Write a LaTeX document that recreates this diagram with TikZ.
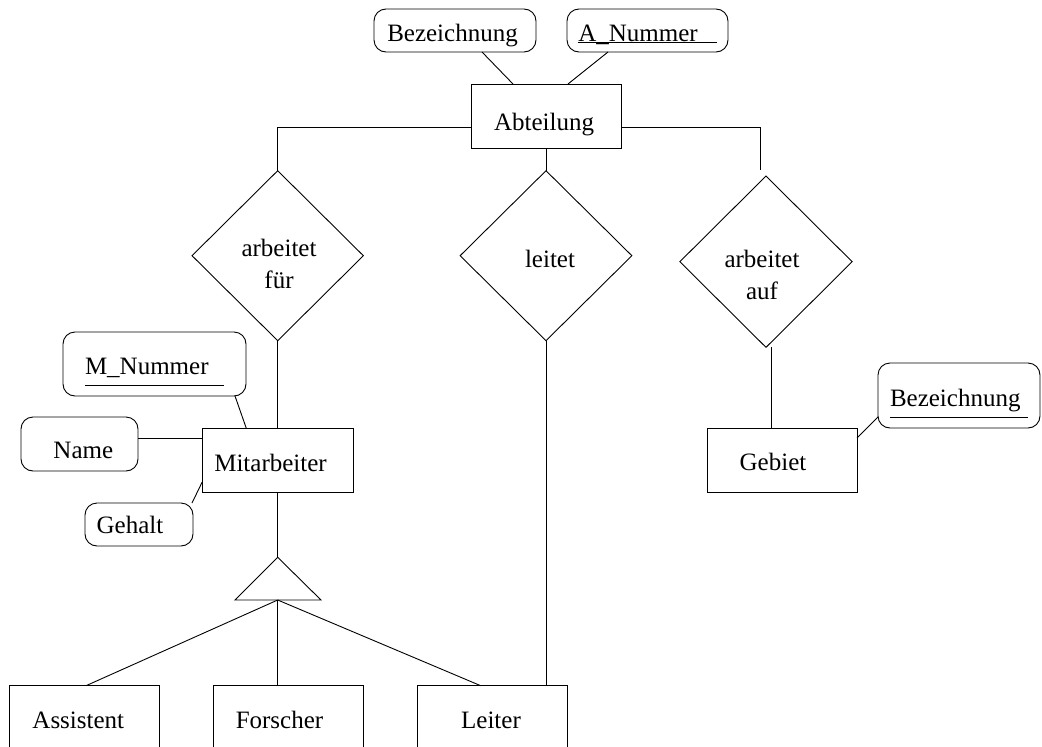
\documentclass[tikz,border=0pt]{standalone}
\usepackage{fontspec}
\setmainfont{Liberation Serif}
\usetikzlibrary{shapes.geometric,calc}
\newcommand{\ulx}[3]{\leavevmode\rlap{\rule[-#2]{#3}{0.9pt}}#1}
\tikzset{
  every picture/.style={line width=0.9pt},
  ent/.style={draw, rectangle, inner sep=0pt, outer sep=0pt},
  att/.style={draw, rectangle, rounded corners=12pt, inner sep=0pt, outer sep=0pt},
  rel/.style={draw, diamond, inner sep=0pt, outer sep=0pt},
  lbl/.style={inner sep=0pt, outer sep=0pt, font=\fontsize{25}{32}\selectfont},
  con/.style={draw, line width=0.9pt}
}
\begin{document}
\begin{tikzpicture}[x=1pt,y=-1pt]
\useasboundingbox (0,0) rectangle (1042,747);
\clip (0,0) rectangle (1042,747);
% entities
\node[ent, minimum width=150pt, minimum height=64pt] (abt) at (546,116) {};
\node[ent, minimum width=151pt, minimum height=64pt] (mit) at (277.7,460) {};
\node[ent, minimum width=150pt, minimum height=64pt] (geb) at (782,460) {};
\node[ent, minimum width=150pt, minimum height=64pt] (assi) at (84.3,717.7) {};
\node[ent, minimum width=150pt, minimum height=64pt] (forsch) at (288.3,717.7) {};
\node[ent, minimum width=150.4pt, minimum height=64pt] (leiter) at (492.5,717.7) {};
% attributes
\node[att, minimum width=162pt, minimum height=43pt] (bez1) at (455,30.5) {};
\node[att, minimum width=161pt, minimum height=43pt] (anum) at (647.5,30.5) {};
\node[att, minimum width=183pt, minimum height=64pt] (mnum) at (154.5,364) {};
\node[att, minimum width=117pt, minimum height=54pt] (name) at (79.5,444) {};
\node[att, minimum width=108pt, minimum height=43pt] (gehalt) at (139,524.5) {};
\node[att, minimum width=162pt, minimum height=65pt] (bez2) at (959,395.5) {};
% relationships
\node[rel, minimum width=171.3pt, minimum height=170pt] (arb1) at (277.7,255.7) {};
\node[rel, minimum width=171.7pt, minimum height=170pt] (leitet) at (546,255.7) {};
\node[rel, minimum width=172.3pt, minimum height=171.3pt] (arb2) at (766,261.7) {};
% texts
\node[lbl, anchor=base] (abtT) at (544,130) {Abteilung};
\node[lbl, anchor=base] (mitT) at (270.5,471.7) {Mitarbeiter};
\node[lbl, anchor=base] (gebT) at (773,470) {Gebiet};
\node[lbl, anchor=base] (assiT) at (78.3,728.3) {Assistent};
\node[lbl, anchor=base] (forschT) at (279.5,728.3) {Forscher};
\node[lbl, anchor=base] (leiterT) at (491,728.3) {Leiter};
\node[lbl, anchor=base] (bez1T) at (452.5,41) {Bezeichnung};
\node[lbl, anchor=base west] (anumT) at (578.3,41) {\ulx{A\_Nummer}{2pt}{138.4pt}};
\node[lbl, anchor=base west] (mnumT) at (85,374) {\ulx{M\_Nummer}{11.4pt}{139pt}};
\node[lbl, anchor=base] (nameT) at (83.3,458.3) {Name};
\node[lbl, anchor=base] (gehT) at (130,533.3) {Gehalt};
\node[lbl, anchor=base west] (bez2T) at (890,406.7) {\ulx{Bezeichnung}{11pt}{138pt}};
\node[lbl, align=center] (arb1T) at (279,264) {arbeitet\\für};
\node[lbl, anchor=base] (leitetT) at (550,267) {leitet};
\node[lbl, align=center] (arb2T) at (762,275) {arbeitet\\auf};
% ISA triangle
\coordinate (triTop) at (277.7,557.3);
\coordinate (triL) at (235,600);
\coordinate (triR) at (321,600);
\coordinate (triBot) at (277.7,600);
\draw (triTop) -- (triR) -- (triL) -- cycle;
% connectors
\coordinate (arb2In) at (760.7,170);
\draw[con] ([xshift=27pt]bez1.south) -- ([xshift=-33pt]abt.north);
\draw[con] ([xshift=-39.5pt]anum.south) -- ([xshift=22pt]abt.north);
\draw[con] ([yshift=-11.5pt]abt.west) -| (arb1.north);
\draw[con] (abt.south) -- (leitet.north);
\draw[con] ([yshift=-11.5pt]abt.east) -| (arb2In);
\draw[con] (arb1.south) -- (mit.north);
\draw[con] (leitet.south) -- (leitet.south |- leiter.north);
\draw[con] ([xshift=5pt]arb2.south) -- ([xshift=5pt]arb2.south |- geb.north);
\draw[con] ([yshift=22pt]geb.east) -- ([yshift=-21.5pt]bez2.west);
\draw[con] ([xshift=80.5pt]mnum.south) -- ([xshift=-31.5pt]mit.north);
\draw[con] ([yshift=6pt]name.east) -- ([yshift=22pt]mit.west);
\draw[con] ([xshift=-1pt]gehalt.north east) -- ([yshift=-22pt]mit.west);
\draw[con] (mit.south) -- (triTop);
\draw[con] (triBot) -- ([xshift=1.7pt]assi.north);
\draw[con] (triBot) -- ([xshift=-10.6pt]forsch.north);
\draw[con] (triBot) -- ([xshift=-11.8pt]leiter.north);
\end{tikzpicture}
\end{document}
